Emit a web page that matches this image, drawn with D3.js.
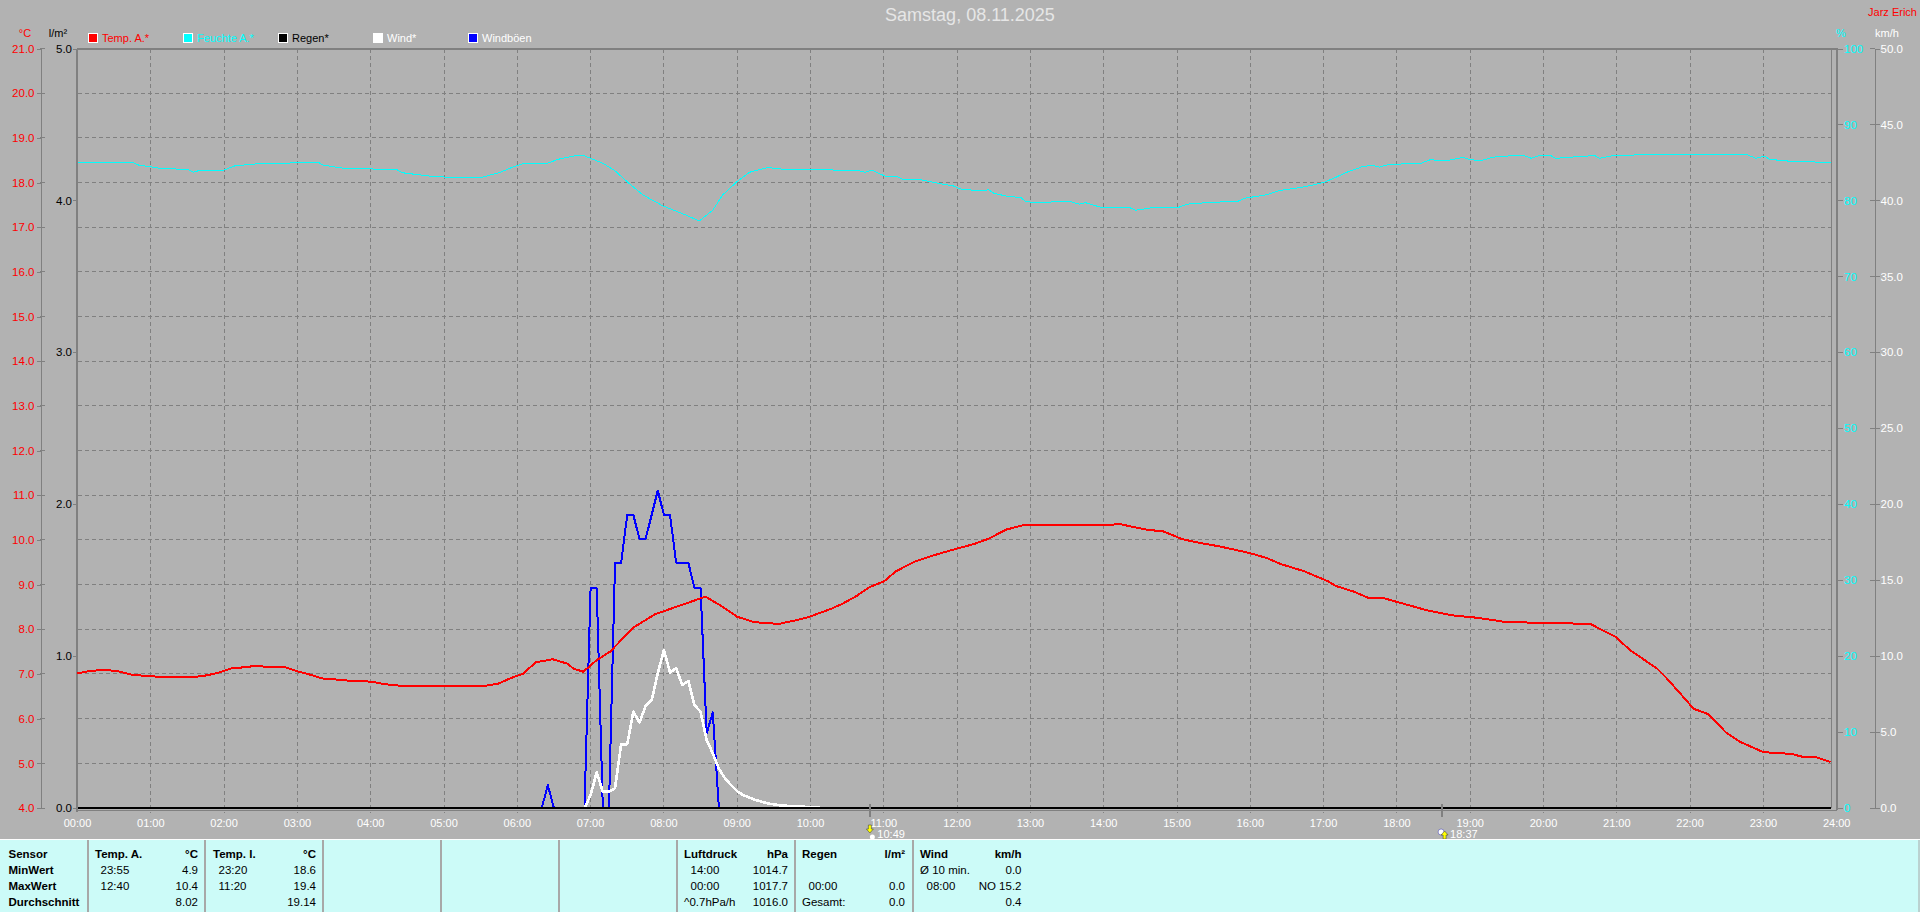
<!DOCTYPE html>
<html><head><meta charset="utf-8">
<script src="https://cdn.jsdelivr.net/npm/d3@7/dist/d3.min.js"></script>
<style>
html,body{margin:0;padding:0;background:#b2b2b2;overflow:hidden}
svg{display:block}
text{font-family:"Liberation Sans",Arial,sans-serif;font-size:11px}
</style></head><body>
<svg id="c" width="1920" height="912"></svg>
<script>
const title = "Samstag, 08.11.2025";
const owner = "Jarz Erich";
const legendNames = ["Temp. A.*","Feuchte A.*","Regen*","Wind*","Windböen"];
const legendColors = ["#ff0000","#00ffff","#000000","#ffffff","#0000ff"];
const legendTextColors = ["#ff0000","#00ffff","#000000","#ffffff","#ffffff"];

const tempTimes = [0,6,16,27,35,45,60,71,95,106,117,125,140,147,155,170,180,191,200,215,225,240,252,270,330,344,355,365,375,389,401,406,414,425,436,455,473,493,514,526,540,554,574,591,599,617,626,638,648,660,670,685,700,719,734,746,760,774,831,854,875,889,904,919,934,959,973,985,1004,1024,1030,1044,1057,1070,1087,1104,1126,1145,1170,1190,1224,1239,1259,1271,1293,1300,1312,1323,1335,1349,1361,1380,1403,1413,1424,1435];
const tempValues = [7.01,7.05,7.08,7.08,7.05,6.98,6.95,6.93,6.93,6.97,7.04,7.12,7.16,7.19,7.15,7.15,7.06,6.98,6.9,6.87,6.84,6.83,6.77,6.72,6.72,6.78,6.91,7.01,7.26,7.33,7.23,7.12,7.05,7.31,7.5,8.04,8.34,8.53,8.73,8.54,8.28,8.16,8.12,8.22,8.28,8.46,8.57,8.75,8.94,9.07,9.3,9.51,9.65,9.8,9.91,10.03,10.23,10.33,10.33,10.35,10.23,10.19,10.02,9.93,9.86,9.71,9.6,9.46,9.3,9.07,8.97,8.85,8.7,8.69,8.56,8.43,8.31,8.26,8.16,8.15,8.13,8.11,7.83,7.53,7.12,6.93,6.56,6.22,6.1,5.7,5.48,5.25,5.21,5.14,5.13,5.03];

const humTimes = [0,45,50,69,90,95,100,120,129,147,172,177,197,201,219,261,266,288,305,331,346,354,364,385,393,407,415,430,440,451,463,479,496,509,520,528,540,550,565,578,619,640,645,650,661,670,675,691,704,717,723,739,746,750,762,772,776,785,812,820,825,838,861,866,878,900,908,924,950,956,973,984,1005,1020,1028,1039,1052,1060,1066,1070,1080,1100,1107,1121,1134,1141,1149,1159,1178,1184,1190,1195,1206,1210,1227,1242,1246,1258,1303,1366,1374,1381,1385,1403,1435];
const humValues = [85,85,84.65,84.2,84.08,83.73,83.95,84,84.56,84.82,84.87,85.04,85.04,84.65,84.2,84.08,83.64,83.2,83.03,83.03,83.7,84.24,84.8,84.9,85.4,85.86,85.86,84.9,83.9,82.3,80.7,79.3,78.2,77.3,78.7,80.7,82.5,83.7,84.33,84.1,84,83.9,83.7,84,83.2,83.2,82.8,82.7,82.27,81.9,81.5,81.26,81.4,80.95,80.5,80.4,79.86,79.7,79.9,79.5,79.7,79.07,79.07,78.7,79,79,79.5,79.7,79.9,80.3,80.73,81.3,81.8,82.36,82.9,83.7,84.46,84.6,84.37,84.64,84.77,84.9,85.34,85.25,85.65,85.34,85.25,85.7,85.93,85.9,85.54,85.84,85.9,85.54,85.75,85.9,85.54,85.93,86.06,86.06,85.54,85.84,85.4,85.14,85];

const windTimes = [415,420,425,430,435,440,445,450,455,460,465,470,475,480,485,490,495,500,505,510,515,520,525,530,535,540,545,555,565,575,590,608];
const windValues = [0,0.85,2.35,1.07,1.07,1.3,4.2,4.2,6.34,5.64,6.7,7.1,8.87,10.4,8.93,9.2,8.1,8.36,6.78,6.34,4.48,3.6,2.6,1.95,1.5,1.1,0.85,0.53,0.3,0.18,0.09,0.05];

const gustTimes = [380,385,390,415,420,425,430,435,440,445,450,455,460,465,470,475,480,485,490,495,500,505,510,515,520,525];
const gustValues = [0,1.5,0,0,14.46,14.46,0,0,16.15,16.15,19.3,19.3,17.7,17.7,19.3,20.9,19.3,19.3,16.15,16.15,16.15,14.5,14.5,4.9,6.3,0];

const rainTimes = [0,1435];
const rainValues = [0,0];

const hourLabels = ["00:00","01:00","02:00","03:00","04:00","05:00","06:00","07:00","08:00","09:00","10:00","11:00","12:00","13:00","14:00","15:00","16:00","17:00","18:00","19:00","20:00","21:00","22:00","23:00","24:00"];
const tempTicks = [4,5,6,7,8,9,10,11,12,13,14,15,16,17,18,19,20,21];
const rainTicks = [0,1,2,3,4,5];
const humTicks = [0,10,20,30,40,50,60,70,80,90,100];
const windTicks = [0,5,10,15,20,25,30,35,40,45,50];
const sunTimes = [649,1117];
const sunLabels = ["10:49","18:37"];

const panelDividers = [88,205,323,441,559,677,795,913];
const panelBold = [
 ["Sensor",8.5,854,"start"],["MinWert",8.5,870,"start"],["MaxWert",8.5,886,"start"],["Durchschnitt",8.5,902,"start"],
 ["Temp. A.",95,854,"start"],["°C",198,854,"end"],
 ["Temp. I.",213,854,"start"],["°C",316,854,"end"],
 ["Luftdruck",684,854,"start"],["hPa",788,854,"end"],
 ["Regen",802,854,"start"],["l/m²",905,854,"end"],
 ["Wind",920,854,"start"],["km/h",1021.5,854,"end"]];
const panelPlain = [
 ["23:55",100.5,870,"start"],["4.9",198,870,"end"],["12:40",100.5,886,"start"],["10.4",198,886,"end"],["8.02",198,902,"end"],
 ["23:20",218.5,870,"start"],["18.6",316,870,"end"],["11:20",218.5,886,"start"],["19.4",316,886,"end"],["19.14",316,902,"end"],
 ["14:00",690.5,870,"start"],["1014.7",788,870,"end"],["00:00",690.5,886,"start"],["1017.7",788,886,"end"],["^0.7hPa/h",684,902,"start"],["1016.0",788,902,"end"],
 ["00:00",808.5,886,"start"],["0.0",905,886,"end"],["Gesamt:",802,902,"start"],["0.0",905,902,"end"],
 ["Ø 10 min.",920,870,"start"],["0.0",1021.5,870,"end"],["08:00",926.5,886,"start"],["NO 15.2",1021.5,886,"end"],["0.4",1021.5,902,"end"]];

const L=77.5, R=1837, T=48.5, B=808, DATA_R=1831.5;
const svg=d3.select("#c");
const x=d3.scaleLinear().domain([0,1440]).range([L,L+24*73.3]);
const yT=d3.scaleLinear().domain([4,21]).range([B,T]);
const yR=d3.scaleLinear().domain([0,5]).range([B,T]);
const yH=d3.scaleLinear().domain([0,100]).range([B,T]);
const yW=d3.scaleLinear().domain([0,50]).range([B,T]);

svg.append("rect").attr("width",1920).attr("height",912).attr("fill","#b2b2b2");

// grid
const grid=svg.append("g").attr("stroke","#808080").attr("stroke-width",1).attr("stroke-dasharray","4,3").attr("shape-rendering","crispEdges");
grid.selectAll("line.h").data(tempTicks.slice(1,-1)).join("line").attr("x1",L).attr("x2",DATA_R+3).attr("y1",d=>yT(d)).attr("y2",d=>yT(d));
grid.selectAll("line.v").data(d3.range(1,24)).join("line").attr("x1",d=>x(d*60)).attr("x2",d=>x(d*60)).attr("y1",T).attr("y2",B+5);

// frame
const fr=svg.append("g").attr("stroke","#808080").attr("fill","none").attr("shape-rendering","crispEdges");
fr.append("line").attr("x1",L-1).attr("x2",R+1).attr("y1",T).attr("y2",T).attr("stroke-width",2);
fr.append("line").attr("x1",L-0.5).attr("x2",L-0.5).attr("y1",T).attr("y2",B+4).attr("stroke-width",2);
fr.append("line").attr("x1",R).attr("x2",R).attr("y1",T).attr("y2",B+2).attr("stroke-width",2);
fr.append("line").attr("x1",DATA_R).attr("x2",DATA_R).attr("y1",T).attr("y2",B).attr("stroke-width",1);
fr.append("line").attr("x1",L).attr("x2",R).attr("y1",B+2).attr("y2",B+2).attr("stroke-width",1);

function axis(gen,tx,color,strokeLine,fmt,ticks){
  const g=svg.append("g").attr("transform",`translate(${tx},0)`);
  g.call(gen.tickValues(ticks).tickFormat(fmt).tickSizeOuter(0));
  g.selectAll(".tick line").attr("stroke","#808080").attr("shape-rendering","crispEdges");
  g.select(".domain").attr("stroke",strokeLine?"#808080":"none").attr("shape-rendering","crispEdges");
  g.selectAll("text").attr("fill",color).style("font-size","11.5px").style("font-family",'"Liberation Sans",Arial,sans-serif');
  return g;
}
const f1=d3.format(".1f"), f0=d3.format("d");
axis(d3.axisLeft(yT).tickSize(4).tickPadding(2),40.5,"#ff0000",true,f1,tempTicks);
axis(d3.axisLeft(yR).tickSize(4).tickPadding(1),77,"#000000",false,f1,rainTicks);
axis(d3.axisRight(yH).tickSize(5).tickPadding(1),1838,"#00ffff",false,f0,humTicks);
axis(d3.axisRight(yW).tickSize(5).tickPadding(1),1874.5,"#ffffff",true,f1,windTicks);
svg.append("g").selectAll("line").data(windTicks).join("line").attr("x1",1870).attr("x2",1875).attr("y1",d=>yW(d)).attr("y2",d=>yW(d)).attr("stroke","#808080").attr("shape-rendering","crispEdges");
svg.append("g").selectAll("line").data(tempTicks).join("line").attr("x1",40).attr("x2",45).attr("y1",d=>yT(d)).attr("y2",d=>yT(d)).attr("stroke","#808080").attr("shape-rendering","crispEdges");

// x labels
svg.append("g").selectAll("text").data(hourLabels).join("text")
 .attr("x",(d,i)=>x(i*60)).attr("y",826.5).attr("text-anchor","middle").attr("fill","#fff").style("font-size","11px").text(d=>d);

// unit labels
const units=[["°C",25,37,"#ff0000"],["l/m²",58,37,"#000"],["%",1841,37,"#00ffff"],["km/h",1887,37,"#fff"]];
svg.append("g").selectAll("text").data(units).join("text").attr("x",d=>d[1]).attr("y",d=>d[2]).attr("text-anchor","middle").attr("fill",d=>d[3]).text(d=>d[0]);

// title
svg.append("text").attr("x",970).attr("y",21).attr("text-anchor","middle").attr("fill","#e6e6e6").style("font-size","18px").text(title);
svg.append("text").attr("x",1917).attr("y",15.5).attr("text-anchor","end").attr("fill","#ff0000").style("font-size","11px").text(owner);

// legend
const lg=svg.append("g").selectAll("g").data(legendNames).join("g").attr("transform",(d,i)=>`translate(${87.5+i*95},33)`);
lg.append("rect").attr("width",9).attr("height",9).attr("x",0.5).attr("y",0.5).attr("fill",(d,i)=>legendColors[i]).attr("stroke","#fff").attr("stroke-width",1).attr("shape-rendering","crispEdges");
lg.append("text").attr("x",14.5).attr("y",9).attr("fill",(d,i)=>legendTextColors[i]).text(d=>d);

// series
function series(ts,vs,yScale,color,w){
  const line=d3.line().x(d=>x(d[0])).y(d=>yScale(d[1])).curve(d3.curveLinear);
  svg.append("path").attr("d",line(d3.zip(ts,vs))).attr("fill","none").attr("stroke",color).attr("stroke-width",w).attr("stroke-linejoin","round").attr("shape-rendering","crispEdges");
}
series(humTimes,humValues,yH,"#00ffff",1);
series(gustTimes,gustValues,yW,"#0000ff",2);
series(windTimes,windValues,yW,"#ffffff",2.6);
series(tempTimes,tempValues,yT,"#ff0000",2);
series(rainTimes,rainValues,yR,"#000000",2);

// sun markers
sunTimes.forEach((t,i)=>{
  const px=x(t);
  svg.append("line").attr("x1",px).attr("x2",px).attr("y1",804).attr("y2",817).attr("stroke","#808080").attr("stroke-width",2).attr("shape-rendering","crispEdges");
  svg.append("text").attr("x",px+(i?8:7)).attr("y",837.5).attr("fill","#fff").style("font-size","11px").text(sunLabels[i]);
  if(i===0){
    svg.append("path").attr("d",`M${px-2},825h3v4h2l-3.5,4l-3.5,-4h2z`).attr("fill","#ffff00").attr("stroke","#333").attr("stroke-width",.5);
    svg.append("circle").attr("cx",px+2).attr("cy",837).attr("r",2.5).attr("fill","#fff");
  }else{
    svg.append("circle").attr("cx",px-1).attr("cy",832).attr("r",3).attr("fill","#fff").attr("stroke","#33a").attr("stroke-width",.5);
    svg.append("path").attr("d",`M${px+1},839v-4h-2l3.5,-4l3.5,4h-2v4z`).attr("fill","#ffff00").attr("stroke","#333").attr("stroke-width",.5);
  }
});

// info panel
svg.append("rect").attr("x",0).attr("y",839).attr("width",1920).attr("height",73).attr("fill","#ccfbf8");
svg.append("line").attr("x1",0).attr("x2",1920).attr("y1",839.5).attr("y2",839.5).attr("stroke","#fff");
svg.append("g").selectAll("line").data(panelDividers).join("line").attr("x1",d=>d).attr("x2",d=>d).attr("y1",840).attr("y2",912).attr("stroke","#a8a8a8").attr("stroke-width",2).attr("shape-rendering","crispEdges");
svg.append("line").attr("x1",1919).attr("x2",1919).attr("y1",840).attr("y2",912).attr("stroke","#a8a8a8");
function panelText(rows,weight){
  svg.append("g").selectAll("text").data(rows).join("text").attr("x",d=>d[1]).attr("y",d=>d[2]+4).attr("text-anchor",d=>d[3]).attr("fill","#000").style("font-weight",weight).style("font-size","11.5px").text(d=>d[0]);
}
panelText(panelBold,"bold");
panelText(panelPlain,"normal");
</script>
</body></html>
